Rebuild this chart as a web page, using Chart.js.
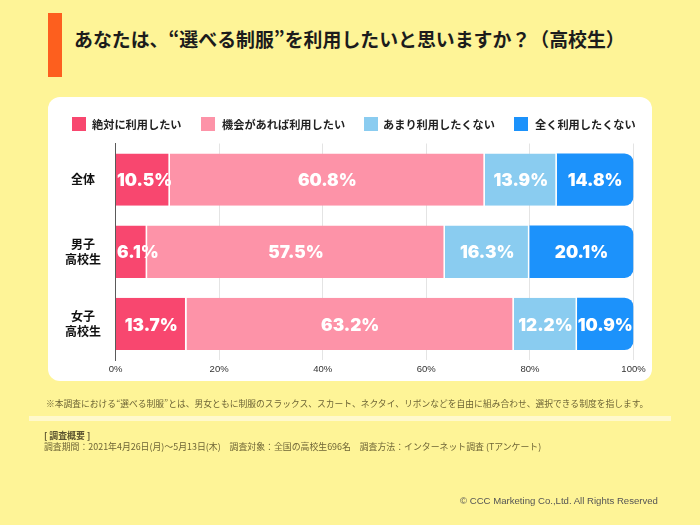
<!DOCTYPE html>
<html lang="ja">
<head>
<meta charset="utf-8">
<title>選べる制服</title>
<script src="https://cdn.jsdelivr.net/npm/chart.js@4"></script>
<style>
  html, body { margin: 0; padding: 0; }
  body { width: 700px; height: 525px; background: #fef497; position: relative; overflow: hidden;
    font-family: "Noto Sans CJK JP", sans-serif; }
  .abs { position: absolute; white-space: nowrap; }
  #accent { left: 48px; top: 13px; width: 13.5px; height: 64px; background: #fd5f1e; }
  #title { left: 74px; top: 25px; font-size: 18.9px; line-height: 28px; font-weight: 700; color: #1c1c1c; }
  #panel { left: 48px; top: 97px; width: 604px; height: 284px; background: #fff; border-radius: 12px; }
  #chart { position: absolute; left: 0; top: 0; }
  .swatch { position: absolute; top: 117px; width: 14px; height: 14px; }
  .legend-text { top: 115px; font-size: 11.2px; line-height: 18px; font-weight: 700; color: #222; }
  #note { left: 46px; top: 396px; font-size: 8.78px; line-height: 16px; color: #6e6536; }
  #rule { left: 29px; top: 416px; width: 642px; height: 5px; background: #fff9cc; }
  #head { left: 44px; top: 429px; font-size: 8.9px; line-height: 14px; font-weight: 700; color: #5c5430; }
  #info { left: 44px; top: 440px; font-size: 8.9px; line-height: 14px; color: #6e6536; }
  #copy { left: 460px; top: 494px; font-family: "Liberation Sans", sans-serif; font-size: 9.6px; line-height: 14px; color: #555; }
</style>
</head>
<body>
<div class="abs" id="accent"></div>
<div class="abs" id="title">あなたは、“選べる制服”を利用したいと思いますか？（高校生）</div>
<div class="abs" id="panel"></div>
<canvas id="chart" width="700" height="525"></canvas>
<div class="abs" id="note">※本調査における“選べる制服”とは、男女ともに制服のスラックス、スカート、ネクタイ、リボンなどを自由に組み合わせ、選択できる制度を指します。</div>
<div class="abs" id="rule"></div>
<div class="abs" id="head">[ 調査概要 ]</div>
<div class="abs" id="info">調査期間：2021年4月26日(月)〜5月13日(木)　調査対象：全国の高校生696名　調査方法：インターネット調査 (Tアンケート)</div>
<div class="abs" id="copy">© CCC Marketing Co.,Ltd. All Rights Reserved</div>
<script>
// values
const categories = ['全体', ['男子', '高校生'], ['女子', '高校生']];
const seriesNames = ['絶対に利用したい', '機会があれば利用したい', 'あまり利用したくない', '全く利用したくない'];
const absolutely = [10.5, 6.1, 13.7];
const ifChance = [60.8, 57.5, 63.2];
const notMuch = [13.9, 16.3, 12.2];
const notAtAll = [14.8, 20.1, 10.9];
const xTicks = [0, 20, 40, 60, 80, 100];

const seriesColors = ['#f8476f', '#fd93a8', '#8accf0', '#1c92fb'];
const legendSwatchX = [72, 201, 364, 514];
const legendTextX = [92, 222, 383, 535];

// legend sits closer to the plot than the built-in padding allows, so it is plain html
seriesNames.forEach((name, i) => {
  const box = document.createElement('div');
  box.className = 'swatch';
  box.style.left = legendSwatchX[i] + 'px';
  box.style.background = seriesColors[i];
  document.body.appendChild(box);
  const label = document.createElement('div');
  label.className = 'abs legend-text';
  label.style.left = legendTextX[i] + 'px';
  label.textContent = name;
  document.body.appendChild(label);
});

const barLabels = {
  id: 'barLabels',
  afterDatasetsDraw(chart) {
    const ctx = chart.ctx;
    const left = chart.chartArea.left;
    ctx.save();
    ctx.font = '900 17.2px Inter, sans-serif';
    ctx.fillStyle = '#fff';
    ctx.textAlign = 'center';
    ctx.textBaseline = 'middle';
    chart.data.datasets.forEach((ds, i) => {
      chart.getDatasetMeta(i).data.forEach((bar, j) => {
        const text = ds.data[j].toFixed(1) + '%';
        // narrow first bars: keep the label clear of the axis, as in the original
        const halfWidth = ctx.measureText(text).width / 2;
        const mid = Math.max((bar.x + bar.base) / 2, left + halfWidth + 1.5);
        ctx.fillText(text, mid, bar.y + 1.5);
      });
    });
    ctx.restore();
  },
};

function makeDataset(idx, values) {
  const last = idx === seriesNames.length - 1;
  return {
    label: seriesNames[idx],
    data: values,
    backgroundColor: seriesColors[idx],
    borderColor: '#fff',
    borderWidth: last ? 0 : { right: 1.5, left: 0, top: 0, bottom: 0 },
    borderSkipped: false,
    borderRadius: last ? { topRight: 9, bottomRight: 9, topLeft: 0, bottomLeft: 0 } : 0,
    barPercentage: 0.726,
    categoryPercentage: 1,
  };
}

new Chart(document.getElementById('chart'), {
  type: 'bar',
  data: {
    labels: categories,
    datasets: [
      makeDataset(0, absolutely),
      makeDataset(1, ifChance),
      makeDataset(2, notMuch),
      makeDataset(3, notAtAll),
    ],
  },
  options: {
    indexAxis: 'y',
    responsive: false,
    animation: false,
    layout: { padding: { left: 48, right: 66.5, top: 143.5, bottom: 145 } },
    plugins: { legend: { display: false }, tooltip: { enabled: false } },
    scales: {
      x: {
        stacked: true,
        min: 0,
        max: 100,
        afterFit: (scale) => { scale.height = 20; },
        afterBuildTicks: (scale) => { scale.ticks = xTicks.map((value) => ({ value })); },
        border: { display: false },
        grid: { color: '#e4e4e4', lineWidth: 1, drawTicks: false },
        ticks: {
          padding: 4,
          maxRotation: 0,
          autoSkip: false,
          color: '#333',
          font: { family: '"Liberation Sans", sans-serif', size: 9.5 },
          callback: (v) => v + '%',
        },
      },
      y: {
        stacked: true,
        afterFit: (scale) => { scale.width = 67.5; },
        border: { display: true, color: '#5a5a5a', width: 1 },
        grid: { display: false },
        ticks: {
          crossAlign: 'center',
          padding: 6.5,
          color: '#111',
          font: { family: '"Noto Sans CJK JP", sans-serif', size: 12, weight: 700, lineHeight: 1.25 },
        },
      },
    },
  },
  plugins: [barLabels],
});
</script>
</body>
</html>
